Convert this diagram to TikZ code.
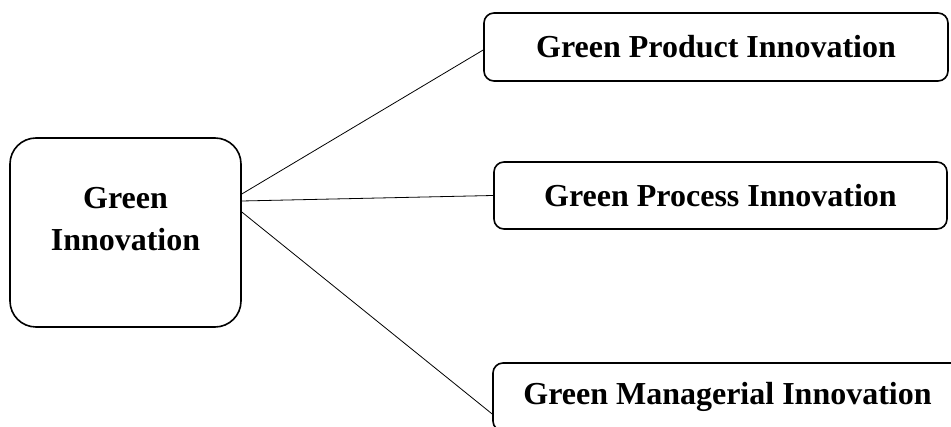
\documentclass[tikz,border=0pt]{standalone}
\usepackage{fontspec}
\setmainfont{Liberation Serif}
\begin{document}
\begin{tikzpicture}[x=1pt,y=-1pt,
  box/.style={draw,line width=1.6pt,rounded corners=10pt,inner sep=0pt,
    font=\fontsize{32}{42}\selectfont\bfseries},
  bigbox/.style={draw,line width=1.6pt,rounded corners=26pt,inner sep=0pt},
  lbl/.style={font=\fontsize{32}{42}\selectfont\bfseries,align=center,inner sep=0pt},
  conn/.style={line width=0.8pt}]
\useasboundingbox (0,0) rectangle (951,427);
\clip (0,0) rectangle (951,427);
\node[bigbox,minimum width=231pt,minimum height=189pt] (L) at (125.5,232.5) {};
\node[lbl] (Lt) at (125.5,219) {Green\\Innovation};
\node[box,minimum width=464pt,minimum height=68pt] (T) at (716,47) {Green Product Innovation};
\node[box,minimum width=453pt,minimum height=67pt] (M) at (720.5,195.5) {Green Process Innovation};
\node[box,minimum width=469pt,minimum height=68pt] (B) at (727.5,397) {Green Managerial Innovation};
\draw[conn] ([yshift=38.5pt]L.east) -- ([yshift=-3pt]T.west);
\draw[conn] ([yshift=31.5pt]L.east) -- (M.west);
\draw[conn] ([yshift=20.5pt]L.east) -- ([yshift=-17pt]B.west);
\end{tikzpicture}
\end{document}
